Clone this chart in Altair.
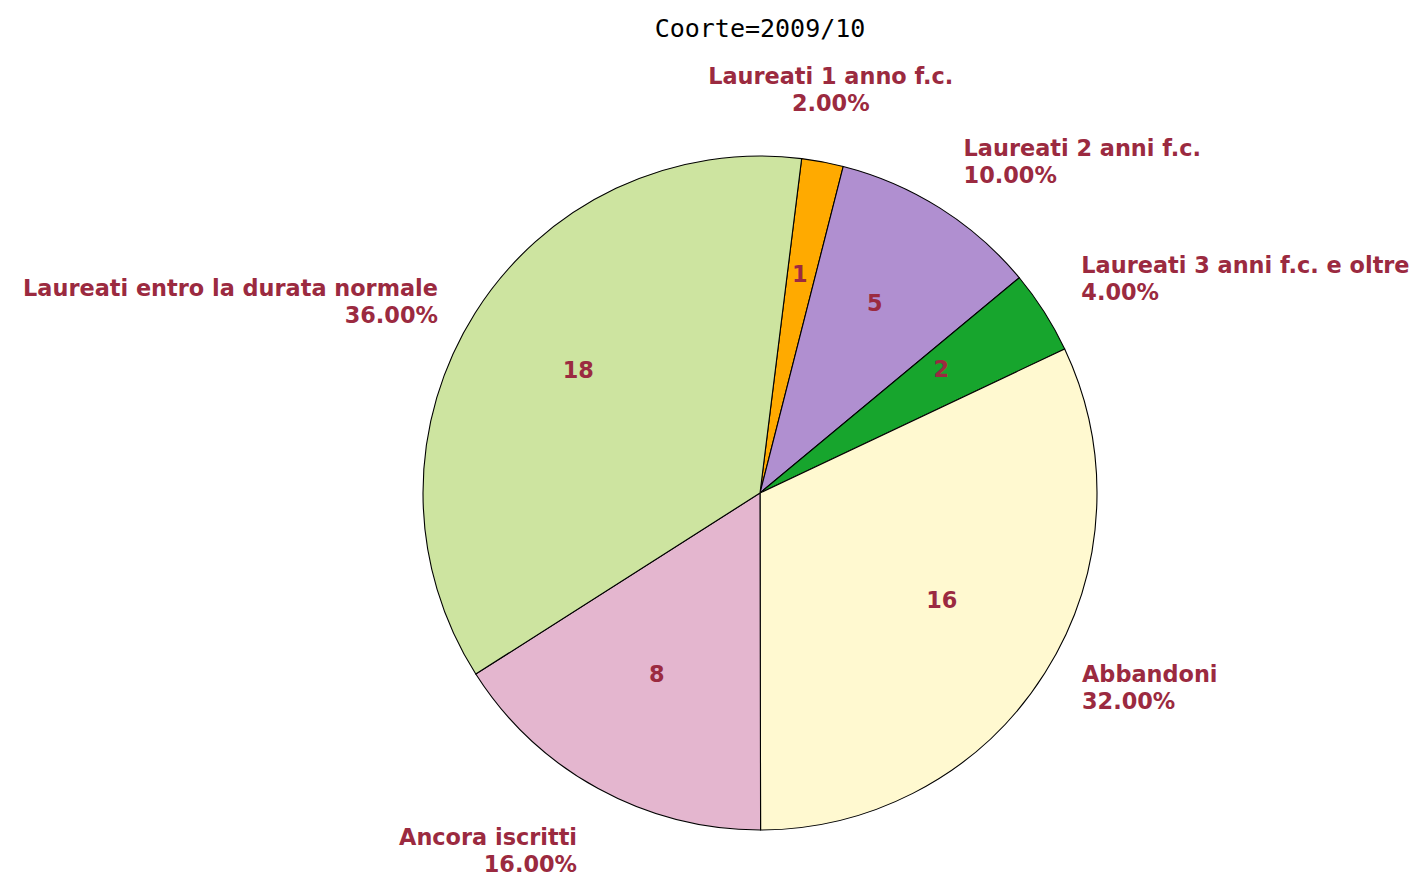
import math
import altair as alt
import pandas as pd

categories = [
    "Laureati 1 anno f.c.",
    "Laureati 2 anni f.c.",
    "Laureati 3 anni f.c. e oltre",
    "Abbandoni",
    "Ancora iscritti",
    "Laureati entro la durata normale",
]
counts = [1, 5, 2, 16, 8, 18]
colors = ["#FFAA00", "#B08FD0", "#17A52D", "#FFF9D0", "#E4B6CF", "#CDE4A0"]

START = math.radians(7.1)
LABEL_COLOR = "#9B2A40"
FONT = "DejaVu Sans"
FS = 22.4
LH = 27

total = sum(counts)
rows = []
cum = 0
for i, (cat, n) in enumerate(zip(categories, counts)):
    mid = START + 2 * math.pi * (cum + n / 2) / total
    cum += n
    s, c = math.sin(mid), math.cos(mid)
    align = "left" if s > 0.3 else ("right" if s < -0.3 else "center")
    base = "bottom" if c > 0.86 else ("top" if c < -0.86 else "middle")
    rows.append({
        "idx": i,
        "cat": cat,
        "n": n,
        "label": f"{cat}\n{100 * n / total:.2f}%",
        "grp": f"{align}|{base}",
    })
df = pd.DataFrame(rows)

theta = alt.Theta("n:Q", stack=True, scale=alt.Scale(range=[START, START + 2 * math.pi]))
order = alt.Order("idx:Q")

base = alt.Chart(df).encode(theta=theta, order=order)

pie = base.mark_arc(outerRadius=337, stroke="black", strokeWidth=1.1).encode(
    color=alt.Color("cat:N", scale=alt.Scale(domain=categories, range=colors), legend=None)
)

counts_txt = base.mark_text(
    radius=215, dy=-7, font=FONT, fontSize=FS, fontWeight="bold", color=LABEL_COLOR
).encode(text="n:Q")

# vertical shift of the two-line label block for each placement group
group_dy = {
    "center|bottom": -LH - 3,
    "left|middle": -22,
    "right|middle": 0,
    "right|top": 0,
}

layers = [pie, counts_txt]
for g in sorted(df["grp"].unique()):
    a, b = g.split("|")
    layers.append(
        base.mark_text(
            radius=381, align=a, baseline=b, lineBreak="\n", lineHeight=LH,
            dy=group_dy.get(g, 0),
            font=FONT, fontSize=FS, fontWeight="bold", color=LABEL_COLOR,
        ).encode(text=alt.condition(alt.datum.grp == g, "label:N", alt.value("")))
    )

chart = alt.layer(*layers).properties(
    width=1300,
    height=770,
    autosize=alt.AutoSizeParams(type="none"),
    padding={"left": 102, "top": 100, "right": 3, "bottom": 4},
    title=alt.Title(
        "Coorte=2009/10", font="DejaVu Sans Mono", fontSize=25, fontWeight="normal",
        color="black", anchor="middle", frame="group", offset=24,
    ),
).configure_view(stroke=None)

chart.save("out.html", embed_options={"renderer": "svg", "actions": False})
